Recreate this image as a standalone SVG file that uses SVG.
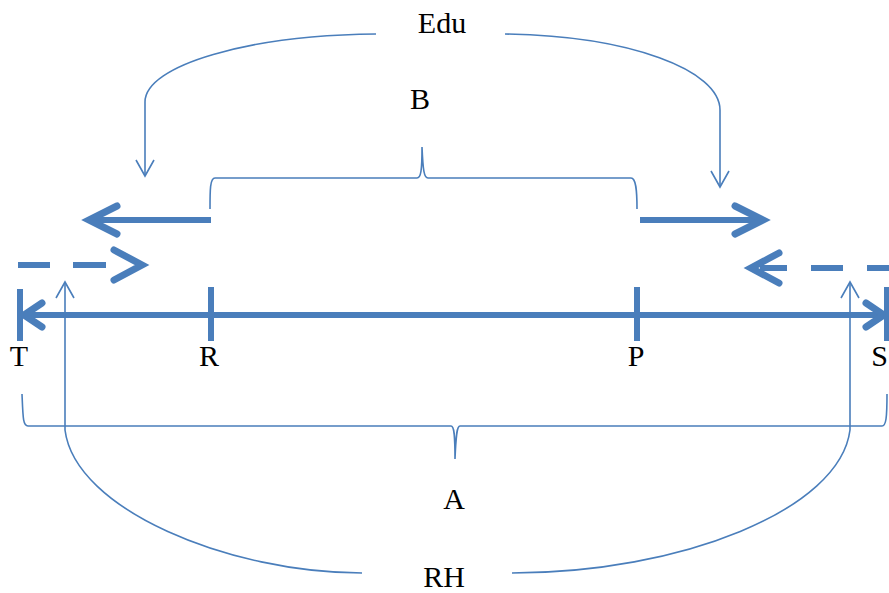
<svg xmlns="http://www.w3.org/2000/svg" width="889" height="593" viewBox="0 0 889 593">
<style>
.thick{stroke:#4A7EBB;stroke-width:6;fill:none;stroke-linecap:butt}
.head{stroke:#4A7EBB;stroke-width:7;fill:none;stroke-linecap:round;stroke-linejoin:miter}
.thin{stroke:#4A7EBB;stroke-width:1.6;fill:none}
.lbl{font-family:"Liberation Serif","Times New Roman",serif;font-size:30px;fill:#000;text-anchor:middle}
</style>
<rect width="889" height="593" fill="#fff"/>
<g id="axis">
<line class="thick" x1="24" y1="315" x2="884" y2="315"/>
<path class="head" d="M42,303 L24,315 L42,327" stroke-width="5"/>
<path class="head" d="M866,303 L884,315 L866,327" stroke-width="5"/>
<line class="thick" x1="20" y1="289" x2="20" y2="341" stroke-width="5"/>
<line class="thick" x1="211" y1="287" x2="211" y2="341" stroke-width="5"/>
<line class="thick" x1="637" y1="287" x2="637" y2="341" stroke-width="5"/>
<line class="thick" x1="887" y1="287" x2="887" y2="341" stroke-width="5"/>
</g>
<g id="T"><text class="lbl" x="19" y="366">T</text></g>
<g id="R"><text class="lbl" x="209" y="366">R</text></g>
<g id="P"><text class="lbl" x="636" y="366">P</text></g>
<g id="S"><text class="lbl" x="888" y="366" style="text-anchor:end">S</text></g>
<g id="Edu"><text class="lbl" x="442" y="33">Edu</text></g>
<g id="B"><text class="lbl" x="420" y="109">B</text></g>
<g id="A"><text class="lbl" x="454" y="509">A</text></g>
<g id="RH"><text class="lbl" x="444" y="587">RH</text></g>
<g id="connectors">
<line class="thick" x1="211" y1="220" x2="92" y2="220"/>
<path class="head" d="M117,206 L89,220 L117,234"/>
<line class="thick" x1="640" y1="220" x2="760" y2="220"/>
<path class="head" d="M735,206 L763,220 L735,234"/>
<path class="thick" d="M18,265 H50 M73,265 H106"/>
<path class="head" d="M114,250 L142,265 L114,280"/>
<path class="thick" d="M889,268 H867 M843,268 H811 M787,268 H760"/>
<path class="head" d="M779,253 L751,268 L779,283"/>
<path class="thin" d="M210,209 C210,190 210,178 215,178 H417 C421,178 422,170 422,147 C423,170 424,178 428,178 H631 C636,178 637,190 637,209"/>
<path class="thin" d="M22,394 C23,418 23,426 28,426 H451 C454,426 455,434 455,459 C456,434 457,426 460,426 H882 C886,426 887,418 887,394"/>
<path class="thin" d="M376,34 C250,35 145,65 145,102 V176"/>
<path class="thin" d="M136,160 L145,176 L154,160"/>
<path class="thin" d="M505,34 C630,36 720,70 720,110 V187"/>
<path class="thin" d="M711,171 L720,187 L729,171"/>
<path class="thin" d="M65,282 V430 C75,510 230,573 362,573"/>
<path class="thin" d="M56,298 L65,282 L74,298"/>
<path class="thin" d="M850,282 V430 C840,510 680,573 512,573"/>
<path class="thin" d="M841,298 L850,282 L859,298"/>
</g>
</svg>
